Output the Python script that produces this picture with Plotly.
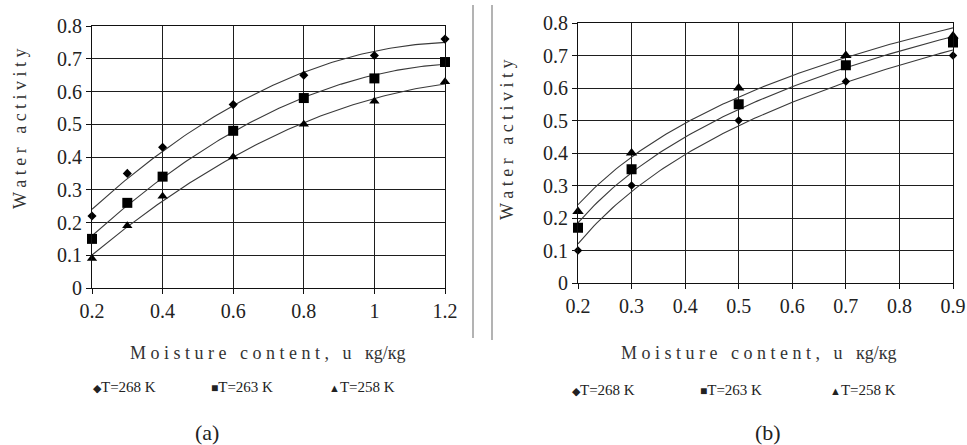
import numpy as np
import plotly.graph_objects as go

# ---------------- data: panel (a) ----------------
U_A = [0.2, 0.3, 0.4, 0.6, 0.8, 1.0, 1.2]
AW_A_268 = [0.22, 0.35, 0.43, 0.56, 0.65, 0.71, 0.76]
AW_A_263 = [0.15, 0.26, 0.34, 0.48, 0.58, 0.64, 0.69]
AW_A_258 = [0.09, 0.19, 0.28, 0.40, 0.50, 0.57, 0.63]

# ---------------- data: panel (b) ----------------
U_B = [0.2, 0.3, 0.5, 0.7, 0.9]
AW_B_268 = [0.10, 0.30, 0.50, 0.62, 0.70]
AW_B_263 = [0.17, 0.35, 0.55, 0.67, 0.74]
AW_B_258 = [0.22, 0.40, 0.60, 0.70, 0.76]

SERIES_NAMES = ["T=268 K", "T=263 K", "T=258 K"]
X_TICKS_A = [0.2, 0.4, 0.6, 0.8, 1.0, 1.2]
X_TICKS_B = [0.2, 0.3, 0.4, 0.5, 0.6, 0.7, 0.8, 0.9]
Y_TICKS = [0, 0.1, 0.2, 0.3, 0.4, 0.5, 0.6, 0.7, 0.8]

W, H = 967, 445
FONT = "Liberation Serif, Times New Roman, serif"


def spaced(s):
    words = s.split(" ")
    return "\u00a0\u00a0\u00a0".join(" ".join(list(w)) for w in words)


def px_x(p):
    return p / W


def px_y(p):
    return (H - p) / H


fig = go.Figure()

symbols = ["diamond", "square", "triangle-up"]
sizes = [7, 10, 9]

# panel (a): points + quadratic trend lines
for name, ys, sym, sz in zip(SERIES_NAMES, [AW_A_268, AW_A_263, AW_A_258], symbols, sizes):
    c = np.polyfit(U_A, ys, 2)
    xf = np.linspace(min(U_A), max(U_A), 120)
    fig.add_trace(go.Scatter(x=xf, y=np.polyval(c, xf), mode="lines",
                             line=dict(color="#3a3a3a", width=1.1),
                             showlegend=False, hoverinfo="skip",
                             xaxis="x", yaxis="y"))
    fig.add_trace(go.Scatter(x=U_A, y=ys, mode="markers", name=name,
                             marker=dict(symbol=sym, size=sz, color="black"),
                             cliponaxis=False, showlegend=False,
                             xaxis="x", yaxis="y"))

# panel (b): points + logarithmic trend lines
sizes_b = [6.5, 10, 10]
for name, ys, sym, sz in zip(SERIES_NAMES, [AW_B_268, AW_B_263, AW_B_258], symbols, sizes_b):
    a, b = np.polyfit(np.log(U_B), ys, 1)
    xf = np.linspace(min(U_B), max(U_B), 120)
    fig.add_trace(go.Scatter(x=xf, y=a * np.log(xf) + b, mode="lines",
                             line=dict(color="#3a3a3a", width=1.1),
                             showlegend=False, hoverinfo="skip",
                             xaxis="x2", yaxis="y2"))
    fig.add_trace(go.Scatter(x=U_B, y=ys, mode="markers", name=name,
                             marker=dict(symbol=sym, size=sz, color="black"),
                             cliponaxis=False, showlegend=False,
                             xaxis="x2", yaxis="y2"))

axis_common = dict(showgrid=True, gridcolor="#1e1e1e", gridwidth=1,
                   showline=True, linecolor="#111111", linewidth=1.2, mirror=True,
                   ticks="outside", ticklen=5, tickcolor="#111111", tickwidth=1,
                   zeroline=False, automargin=False,
                   tickfont=dict(family=FONT, size=20, color="#222222"),
                   fixedrange=True)

fig.update_layout(
    template="none",
    width=W, height=H, autosize=False,
    margin=dict(l=0, r=0, t=0, b=0, pad=0),
    paper_bgcolor="white", plot_bgcolor="white",
    font=dict(family=FONT, color="#222222"),
    showlegend=False,
    xaxis=dict(domain=[px_x(92), px_x(445)], range=[0.2, 1.2], anchor="y",
               tickvals=X_TICKS_A, **axis_common),
    yaxis=dict(domain=[px_y(288), px_y(26)], range=[0, 0.8], anchor="x",
               tickvals=Y_TICKS, **axis_common),
    xaxis2=dict(domain=[px_x(578), px_x(953)], range=[0.2, 0.9], anchor="y2",
                tickvals=X_TICKS_B, **axis_common),
    yaxis2=dict(domain=[px_y(283), px_y(23)], range=[0, 0.8], anchor="x2",
                tickvals=Y_TICKS, **axis_common),
)

# divider lines between panels
for xp, y1 in [(473, 338), (492, 340)]:
    fig.add_shape(type="line", xref="paper", yref="paper",
                  x0=px_x(xp), x1=px_x(xp), y0=px_y(5), y1=px_y(y1),
                  line=dict(color="#9a9a9a", width=1.5))

ann = []
ytitle = spaced("Water activity")
xtitle = spaced("Moisture content, u") + "\u00a0\u00a0\u00a0кg/кg"
for xc, yc in [(20, 129), (507, 140)]:
    ann.append(dict(x=px_x(xc), y=px_y(yc), xref="paper", yref="paper",
                    text=ytitle, textangle=-90, showarrow=False,
                    xanchor="center", yanchor="middle",
                    font=dict(family=FONT, size=18, color="#333333")))
for xc in [267, 758]:
    ann.append(dict(x=px_x(xc), y=px_y(353), xref="paper", yref="paper",
                    text=xtitle, showarrow=False, xanchor="center", yanchor="middle",
                    font=dict(family=FONT, size=18, color="#333333")))

glyphs = ['<span style="font-size:11px">◆</span>',
          '<span style="font-size:12px">■</span>',
          '<span style="font-size:11px">▲</span>']
for xs, yc in [([91, 209, 327], 387), ([570, 698, 828], 390)]:
    for xstart, g, name in zip(xs, glyphs, SERIES_NAMES):
        ann.append(dict(x=px_x(xstart), y=px_y(yc), xref="paper", yref="paper",
                        text=g + name, showarrow=False, xanchor="left", yanchor="middle",
                        font=dict(family=FONT, size=15, color="#222222")))

for txt, xc in [("(a)", 207), ("(b)", 768)]:
    ann.append(dict(x=px_x(xc), y=px_y(432), xref="paper", yref="paper",
                    text=txt, showarrow=False, xanchor="center", yanchor="middle",
                    font=dict(family=FONT, size=22, color="#222222")))

fig.update_layout(annotations=ann)

fig.write_html("out.html",
               config={"displayModeBar": False, "staticPlot": False},
               post_script="document.body.style.margin='0px';"
                           "document.body.style.overflow='hidden';")
